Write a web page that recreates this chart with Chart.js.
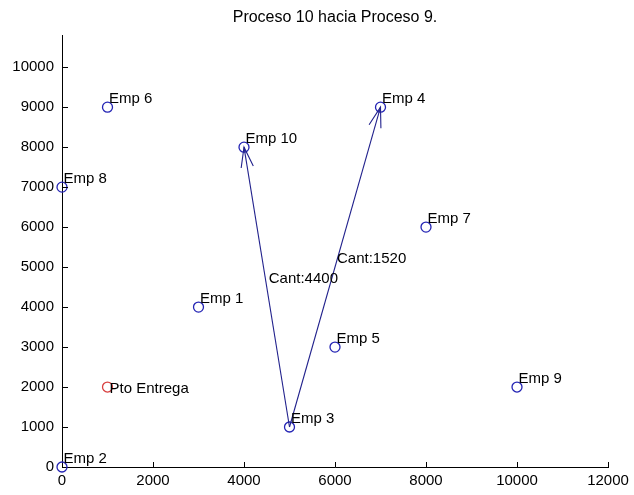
<!DOCTYPE html>
<html><head><meta charset="utf-8">
<script src="https://cdn.jsdelivr.net/npm/chart.js@4"></script>
<style>html,body{margin:0;padding:0;background:#fff}#wrap{width:634px;height:495px}</style>
</head><body><div id="wrap"><canvas id="c" width="634" height="495"></canvas></div>
<script>
// ---- data ----
const titleText = 'Proceso 10 hacia Proceso 9.';
const empNames = ['Emp 1','Emp 2','Emp 3','Emp 4','Emp 5','Emp 6','Emp 7','Emp 8','Emp 9','Emp 10'];
const empX = [3000, 0, 5000, 7000, 6000, 1000, 8000, 0, 10000, 4000];
const empY = [4000, 0, 1000, 9000, 3000, 9000, 6000, 7000, 2000, 8000];
const deliveryNames = ['Pto Entrega'];
const deliveryX = [1000];
const deliveryY = [2000];
const routeFrom = [3, 3];      // Emp number (origin)
const routeTo = [10, 4];       // Emp number (destination)
const routeQty = [4400, 1520]; // quantity label
const xTicks = [0, 2000, 4000, 6000, 8000, 10000, 12000];
const yTicks = [0, 1000, 2000, 3000, 4000, 5000, 6000, 7000, 8000, 9000, 10000];
const xMax = 12000, yMax = 10800;

// ---- styles ----
const FONT = 'Liberation Sans, Arial, sans-serif';
const BLUE = '#2424b4';
const LINE = '#20208c';
const RED = '#d84040';

const datasets = [];
datasets.push({
  label: 'Emp', data: empX.map((x, i) => ({x, y: empY[i]})),
  pointRadius: 5, pointHoverRadius: 5, borderWidth: 1.3,
  borderColor: BLUE, backgroundColor: 'rgba(0,0,0,0)', clip: false, order: 2
});
datasets.push({
  label: 'Pto', data: deliveryX.map((x, i) => ({x, y: deliveryY[i]})),
  pointRadius: 5, pointHoverRadius: 5, borderWidth: 1.3,
  borderColor: RED, backgroundColor: 'rgba(0,0,0,0)', clip: false, order: 2
});
routeFrom.forEach((f, i) => {
  const t = routeTo[i];
  datasets.push({
    label: 'route' + i, showLine: true, pointRadius: 0, borderWidth: 1.1,
    borderColor: LINE, backgroundColor: LINE, clip: false, order: 1,
    data: [{x: empX[f-1], y: empY[f-1]}, {x: empX[t-1], y: empY[t-1]}]
  });
});

const annot = {
  id: 'annot',
  afterDraw(chart) {
    const ctx = chart.ctx, xs = chart.scales.x, ys = chart.scales.y, ca = chart.chartArea;
    const X = v => xs.getPixelForValue(v), Y = v => ys.getPixelForValue(v);
    ctx.save();
    // inward tick marks
    ctx.strokeStyle = '#000'; ctx.lineWidth = 1;
    ctx.beginPath();
    const b = Math.round(ca.bottom), l = Math.round(ca.left);
    xTicks.forEach(v => { if (v === 0) return; const p = Math.round(X(v)) + 0.5; ctx.moveTo(p, b + 0.5); ctx.lineTo(p, b - 5); });
    yTicks.forEach(v => { if (v === 0) return; const p = Math.round(Y(v)) + 0.5; ctx.moveTo(l, p); ctx.lineTo(l + 6, p); });
    ctx.stroke();
    // arrowheads
    ctx.strokeStyle = LINE; ctx.lineWidth = 1.1;
    routeFrom.forEach((f, i) => {
      const t = routeTo[i];
      const fx = X(empX[f-1]), fy = Y(empY[f-1]), tx = X(empX[t-1]), ty = Y(empY[t-1]);
      const a = Math.atan2(fy - ty, fx - tx), L = 21, th = 17 * Math.PI / 180;
      ctx.beginPath();
      ctx.moveTo(tx + L * Math.cos(a + th), ty + L * Math.sin(a + th));
      ctx.lineTo(tx, ty);
      ctx.lineTo(tx + L * Math.cos(a - th), ty + L * Math.sin(a - th));
      ctx.stroke();
    });
    // text labels
    ctx.fillStyle = '#000'; ctx.font = '15px ' + FONT;
    ctx.textAlign = 'left'; ctx.textBaseline = 'alphabetic';
    const lift = 250;
    empNames.forEach((n, i) => ctx.fillText(n, X(empX[i]) + 1.5, Y(empY[i] + lift) + 6));
    deliveryNames.forEach((n, i) => ctx.fillText(n, X(deliveryX[i]) + 2, Y(deliveryY[i]) + 6));
    routeFrom.forEach((f, i) => {
      const t = routeTo[i];
      const mx = (empX[f-1] + empX[t-1]) / 2, my = (empY[f-1] + empY[t-1]) / 2;
      ctx.fillText('Cant:' + routeQty[i], X(mx) + 2, Y(my + lift) + 6);
    });
    ctx.restore();
  }
};

new Chart(document.getElementById('c'), {
  type: 'scatter',
  data: { datasets },
  options: {
    responsive: false, animation: false, devicePixelRatio: 1,
    layout: { padding: { left: 0, right: 26, top: 0, bottom: 0 } },
    plugins: {
      legend: { display: false }, tooltip: { enabled: false },
      title: { display: true, text: titleText, fullSize: false, color: '#000',
        font: { family: FONT, size: 16, weight: 'normal' }, padding: { top: 8, bottom: 8 } }
    },
    scales: {
      x: {
        type: 'linear', min: 0, max: xMax,
        afterBuildTicks: s => { s.ticks = xTicks.map(v => ({value: v})); },
        afterFit: s => { s.height = 28; },
        grid: { display: false, drawTicks: false },
        border: { display: true, color: '#000', width: 1 },
        ticks: { color: '#000', padding: 5, maxRotation: 0, autoSkip: false,
          callback: v => String(v), font: { family: FONT, size: 15 } }
      },
      y: {
        type: 'linear', min: 0, max: yMax,
        afterBuildTicks: s => { s.ticks = yTicks.map(v => ({value: v})); },
        afterFit: s => { s.width = 62; },
        grid: { display: false, drawTicks: false },
        border: { display: true, color: '#000', width: 1 },
        ticks: { color: '#000', padding: 8, autoSkip: false,
          callback: v => String(v), font: { family: FONT, size: 15 } }
      }
    }
  },
  plugins: [annot]
});
</script>
</body></html>
